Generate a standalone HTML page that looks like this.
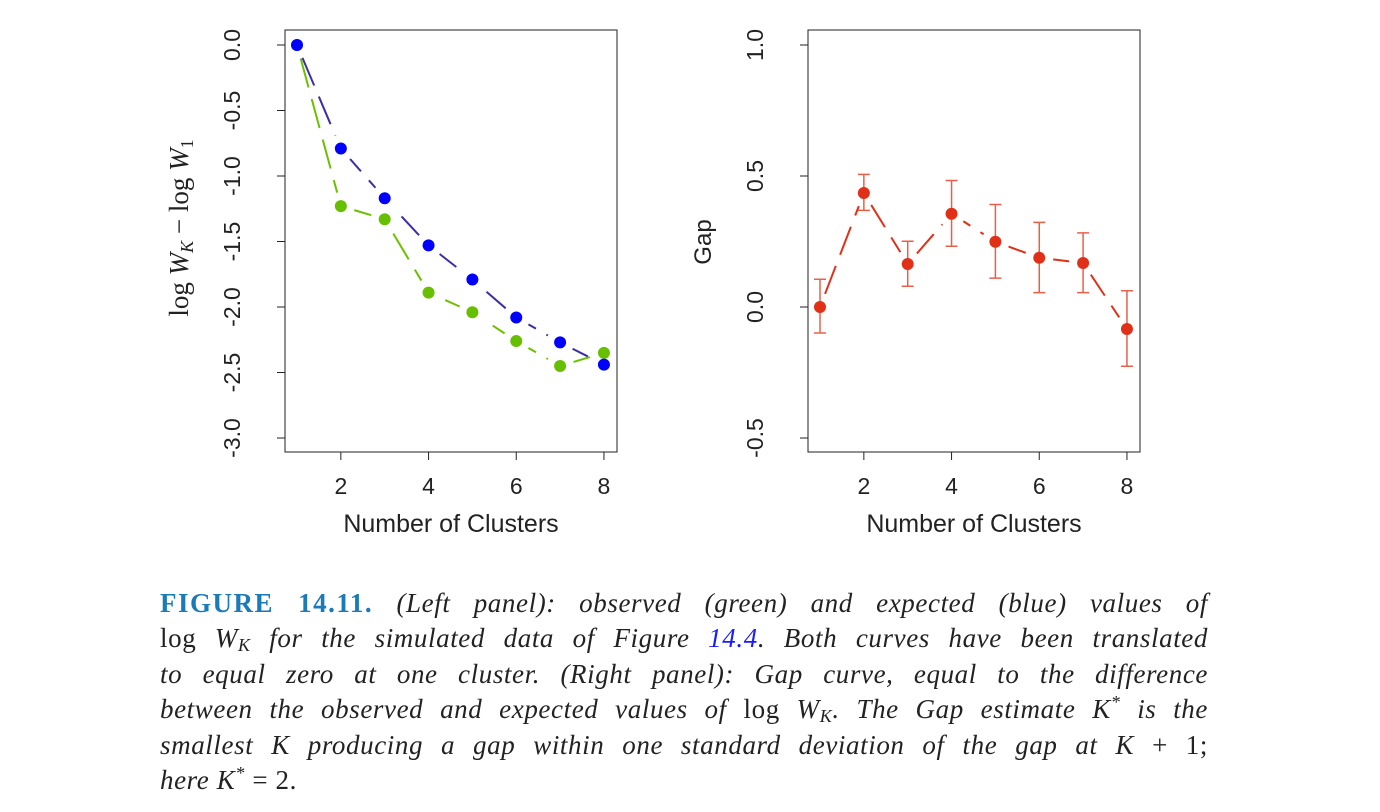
<!DOCTYPE html>
<html><head><meta charset="utf-8">
<style>
html,body{margin:0;padding:0;background:#fff;width:1380px;height:812px;overflow:hidden}
.cap{position:absolute;left:160px;width:1048px;font-family:"Liberation Serif",serif;font-style:italic;font-size:27px;line-height:27px;letter-spacing:0.6px;color:#222;text-align:justify;text-align-last:justify;white-space:nowrap}
.cap.last{text-align-last:left}
.up{font-style:normal}
.fig{font-style:normal;font-weight:bold;color:#1b7bb8;letter-spacing:1.5px}
.lnk{color:#1a1aff}
sub{font-size:18px;vertical-align:-4px;line-height:0}
sup{font-size:18px;line-height:0}
</style></head><body>
<svg id="chart" width="1380" height="590" style="position:absolute;left:0;top:0" font-family="Liberation Sans, sans-serif"></svg>
<div class="cap" style="top:590px"><span class="fig">FIGURE 14.11.</span> (Left panel): observed (green) and expected (blue) values of</div>
<div class="cap" style="top:625px"><span class="up">log</span> W<sub>K</sub> for the simulated data of Figure <span class="lnk">14.4</span>. Both curves have been translated</div>
<div class="cap" style="top:661px">to equal zero at one cluster. (Right panel): Gap curve, equal to the difference</div>
<div class="cap" style="top:696px">between the observed and expected values of <span class="up">log</span> W<sub>K</sub>. The Gap estimate K<sup>*</sup> is the</div>
<div class="cap" style="top:732px">smallest K producing a gap within one standard deviation of the gap at K <span class="up">+ 1;</span></div>
<div class="cap last" style="top:767px">here K<sup>*</sup> <span class="up">= 2.</span></div>
<script>
const clusters=[1,2,3,4,5,6,7,8];
const expectedBlue=[0,-0.79,-1.17,-1.53,-1.79,-2.08,-2.27,-2.44];
const observedGreen=[0,-1.23,-1.33,-1.89,-2.04,-2.26,-2.45,-2.35];
const gapValues=[0,0.435,0.164,0.356,0.249,0.188,0.168,-0.084];
const gapUpper=[0.106,0.506,0.251,0.483,0.391,0.323,0.283,0.062];
const gapLower=[-0.099,0.369,0.079,0.232,0.110,0.055,0.055,-0.226];
const leftYTicks=[0,-0.5,-1,-1.5,-2,-2.5,-3];
const leftYLabels=["0.0","-0.5","-1.0","-1.5","-2.0","-2.5","-3.0"];
const rightYTicks=[1,0.5,0,-0.5];
const rightYLabels=["1.0","0.5","0.0","-0.5"];
const xTicks=[2,4,6,8];

const svg=document.getElementById('chart');
const NS='http://www.w3.org/2000/svg';
function mk(tag,attrs,parent){const e=document.createElementNS(NS,tag);for(const k in attrs)e.setAttribute(k,attrs[k]);(parent||svg).appendChild(e);return e;}

function panel(px,yTop,yBot,vTop,vBot,name){
  const x=v=>px+12+(v-1)*43.85;
  const y=v=>yTop+(vTop-v)/(vTop-vBot)*(yBot-yTop);
  const g=mk('g',{});
  
  
  const box=mk('rect',{x:px,y:30,width:332,height:422,fill:'none',stroke:'#222','stroke-width':1},g);
  
  
  return {x,y,g};
}
function xAxis(P,px,name){
  const g=mk('g',{},P.g);
  
  
  xTicks.forEach(t=>{
    mk('line',{x1:P.x(t),x2:P.x(t),y1:452,y2:460,stroke:'#222'},g);
    const tx=mk('text',{x:P.x(t),y:494,'font-size':23,'text-anchor':'middle',fill:'#222'},g);
    tx.textContent=t;
    
    
  });
  const t=mk('text',{x:px+166,y:532,'font-size':25,'text-anchor':'middle',fill:'#222'},g);
  t.textContent='Number of Clusters';
  
  
}
function yAxis(P,px,ticks,labels,name){
  const g=mk('g',{},P.g);
  
  
  ticks.forEach((t,i)=>{
    mk('line',{x1:px-8,x2:px,y1:P.y(t),y2:P.y(t),stroke:'#222'},g);
    const tx=mk('text',{x:0,y:0,'font-size':23,'text-anchor':'middle',fill:'#222',transform:`translate(${px-45},${P.y(t)}) rotate(-90)`},g);
    tx.textContent=labels[i];
    
    
  });
}
function series(P,vals,lineCol,ptCol,name){
  const g=mk('g',{},P.g);
  
  
  let off=0;
  for(let i=0;i<vals.length-1;i++){
    const x1=P.x(clusters[i]),y1=P.y(vals[i]),x2=P.x(clusters[i+1]),y2=P.y(vals[i+1]);
    const L=Math.hypot(x2-x1,y2-y1),ux=(x2-x1)/L,uy=(y2-y1)/L,s=14;
    if(L>2*s){
      const ln=mk('line',{x1:x1+ux*s,y1:y1+uy*s,x2:x2-ux*s,y2:y2-uy*s,stroke:lineCol,'stroke-width':2,'stroke-dasharray':'30 12','stroke-dashoffset':-off},g);
      
      
    }
    off+=L;
  }
  vals.forEach((v,i)=>{
    const c=mk('circle',{cx:P.x(clusters[i]),cy:P.y(v),r:6,fill:ptCol},g);
    
    
  });
}
const L=panel(285,45,438,0,-3,'left-panel');
yAxis(L,285,leftYTicks,leftYLabels,'left-y-axis');
xAxis(L,285,'left-x-axis');
const yl=mk('text',{x:0,y:0,'font-size':27,'text-anchor':'middle',fill:'#222','font-family':'Liberation Serif, serif',transform:'translate(188,228) rotate(-90)'});
yl.innerHTML='log <tspan font-style="italic">W</tspan><tspan font-style="italic" font-size="18" dy="5">K</tspan><tspan dy="-5"> − log </tspan><tspan font-style="italic">W</tspan><tspan font-size="18" dy="5">1</tspan>';


series(L,observedGreen,'#6cc000','#66c000','observed-green-series');
series(L,expectedBlue,'#3a2fa8','#0000ff','expected-blue-series');
const R=panel(808,45,438,1,-0.5,'right-panel');
yAxis(R,808,rightYTicks,rightYLabels,'right-y-axis');
xAxis(R,808,'right-x-axis');
const yr=mk('text',{x:0,y:0,'font-size':24,'text-anchor':'middle',fill:'#222',transform:'translate(711,242) rotate(-90)'});
yr.textContent='Gap';


const eb=mk('g',{},R.g);


clusters.forEach((c,i)=>{
  const x=R.x(c),yu=R.y(gapUpper[i]),yd=R.y(gapLower[i]);
  const p=mk('path',{d:`M${x},${yu}V${yd}M${x-6},${yu}H${x+6}M${x-6},${yd}H${x+6}`,stroke:'#e8604a','stroke-width':1.5,fill:'none'},eb);
  
  
});
series(R,gapValues,'#e03018','#e03018','gap-series');
</script>
</body></html>
